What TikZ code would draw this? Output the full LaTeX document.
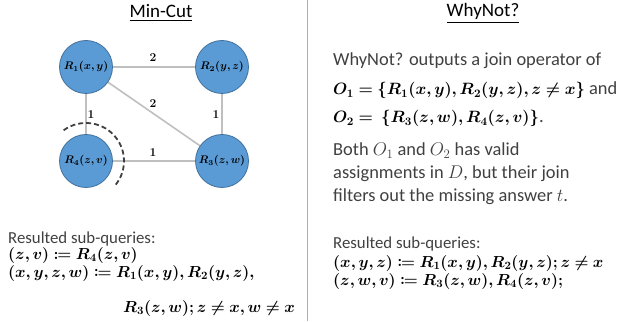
\RequirePackage{fix-cm}
\documentclass[tikz,border=0pt]{standalone}
\usepackage[no-math]{fontspec}
\setmainfont{Carlito}
\usepackage{amsmath,amssymb,mathtools,bm}
\definecolor{nodefill}{HTML}{5B9BD5}
\definecolor{nodedraw}{HTML}{41719C}
\definecolor{edgegray}{HTML}{BFBFBF}
\definecolor{divblue}{HTML}{8DB4E2}
\definecolor{textgray}{HTML}{404040}
\newcommand{\bigmath}[1]{{\fontsize{16.4}{20}\selectfont\color{black}$\bm{#1}$}}
\newcommand{\smallmath}[1]{{\fontsize{16}{18}\selectfont\color{black}$\bm{#1}$}}
\tikzset{
  rel/.style={circle, minimum size=53pt, inner sep=0pt, fill=nodefill, draw=nodedraw, line width=0.8pt, font=\fontsize{11}{12}\selectfont},
  edge/.style={draw=edgegray, line width=1.6pt},
  wlabel/.style={font=\fontsize{12}{13}\selectfont, inner sep=0pt},
  title/.style={font=\fontsize{19}{21}\selectfont, inner sep=0pt},
  body/.style={font=\fontsize{18.4}{22}\selectfont, anchor=base west, inner sep=0pt, text=textgray},
  sub/.style={font=\fontsize{16.8}{19}\selectfont, anchor=base west, inner sep=0pt, text=textgray}
}
\begin{document}
\begin{tikzpicture}[x=1pt,y=1pt]
\useasboundingbox (0,0) rectangle (628,321);
% divider
\draw[divblue, line width=1pt] (307,0) -- (307,321);
% titles
\node[title] (t1) at (161,308) {\underline{Min-Cut}};
\node[title] (t2) at (483,308) {\underline{WhyNot?}};
% graph
\draw[edge] (86,254) -- (222,254);
\draw[edge] (86,254) -- (222,160);
\draw[edge] (86,254) -- (86,160);
\draw[edge] (222,254) -- (222,160);
\draw[edge] (86,160) -- (222,160);
\node[rel] (r1) at (86,254) {$\bm{R_1(x,y)}$};
\node[rel] (r2) at (222,254) {$\bm{R_2(y,z)}$};
\node[rel] (r4) at (86,160) {$\bm{R_4(z,v)}$};
\node[rel] (r3) at (222,160) {$\bm{R_3(z,w)}$};
\node[wlabel] (l12) at (153,263) {$\bm{2}$};
\node[wlabel] (l13) at (153,217) {$\bm{2}$};
\node[wlabel] (l14) at (91,206) {$\bm{1}$};
\node[wlabel] (l23) at (216,206) {$\bm{1}$};
\node[wlabel] (l43) at (153,168) {$\bm{1}$};
\draw[draw=black!75, line width=1.8pt, dash pattern=on 5pt off 3pt] ([shift={(126:38)}]r4.center) arc[start angle=126, end angle=-40, radius=38];
% left bottom text
\node[sub] (a1) at (8,77.5) {Resulted sub-queries:};
\node[sub] (a2) at (8,61.5) {\smallmath{(z,v) \coloneqq R_4(z,v)}};
\node[sub] (a3) at (8,44) {\smallmath{(x,y,z,w) \coloneqq R_1(x,y), R_2(y,z),}};
\node[sub, anchor=base east] (a4) at (295,9) {\smallmath{R_3(z,w); z \neq x, w \neq x}};
% right text
\node[body] (b1) at (333,255) {WhyNot? outputs a join operator of};
\node[body] (b2) at (333,226) {\bigmath{O_1 = \{R_1(x,y), R_2(y,z), z \neq x\}} and};
\node[body] (b3) at (333,198) {\bigmath{O_2 = \ \{R_3(z,w), R_4(z,v)\}}.};
\node[body] (b4) at (333,165) {Both $O_1$ and $O_2$ has valid};
\node[body] (b5) at (333,142) {assignments in $D$, but their join};
\node[body] (b6) at (333,119) {filters out the missing answer $t$.};
% right bottom text
\node[sub] (c1) at (333,73) {Resulted sub-queries:};
\node[sub] (c2) at (333,54) {\smallmath{(x,y,z) \coloneqq R_1(x,y), R_2(y,z); z \neq x}};
\node[sub] (c3) at (333,36) {\smallmath{(z,w,v) \coloneqq R_3(z,w), R_4(z,v);}};
\end{tikzpicture}
\end{document}
